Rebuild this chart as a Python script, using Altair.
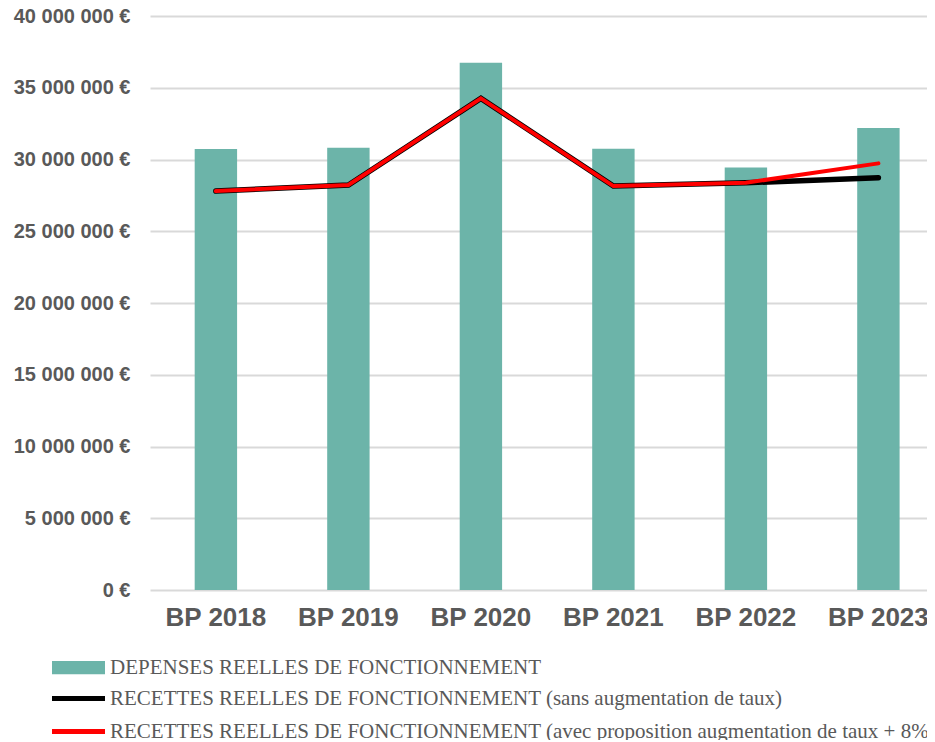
import altair as alt
import pandas as pd

years = ["BP 2018", "BP 2019", "BP 2020", "BP 2021", "BP 2022", "BP 2023"]
depenses = [30730000, 30820000, 36750000, 30750000, 29450000, 32200000]
recettes_sans = [27800000, 28220000, 34260000, 28150000, 28380000, 28730000]
recettes_avec = [27800000, 28220000, 34260000, 28150000, 28380000, 29730000]

lab_dep = "DEPENSES REELLES DE FONCTIONNEMENT"
lab_sans = "RECETTES REELLES DE FONCTIONNEMENT (sans augmentation de taux)"
lab_avec = "RECETTES REELLES DE FONCTIONNEMENT (avec proposition augmentation de taux + 8%)"
y_ticks = [0, 5000000, 10000000, 15000000, 20000000, 25000000, 30000000, 35000000, 40000000]

bars_df = pd.DataFrame({"annee": years, "valeur": depenses, "serie": lab_dep})
sans_df = pd.DataFrame({"annee": years, "valeur": recettes_sans, "serie": lab_sans})
avec_df = pd.DataFrame({"annee": years, "valeur": recettes_avec, "serie": lab_avec})

x_enc = alt.X(
    "annee:N",
    sort=years,
    scale=alt.Scale(paddingInner=0.68, paddingOuter=0.272, align=0.62),
    axis=alt.Axis(
        title=None, labelAngle=0, labelFont="Liberation Sans", labelFontWeight="bold",
        labelFontSize=26, labelColor="#595959", ticks=False, domain=False, labelPadding=14,
        grid=False,
    ),
)
y_enc = alt.Y(
    "valeur:Q",
    scale=alt.Scale(domain=[0, 40000000], nice=False),
    axis=alt.Axis(
        title=None, values=y_ticks,
        labelExpr="replace(format(datum.value, ',.0f'), /,/g, ' ') + ' €'",
        labelFont="Liberation Sans", labelFontWeight="bold", labelFontSize=20,
        labelColor="#595959", ticks=False, domain=False, labelPadding=20,
        grid=True, gridColor="#d9d9d9", gridWidth=2,
    ),
)

stroke_scale = alt.Scale(domain=[lab_sans, lab_avec], range=["#000000", "#ff0000"])
stroke_legend = alt.Legend(
    title=None, orient="none", legendX=-84, legendY=670,
    symbolType="M-2.65,0L2.65,0", symbolSize=400, symbolStrokeWidth=5,
    labelFont="Liberation Serif", labelFontSize=21,
    labelColor="#595959", labelLimit=0, padding=0, rowPadding=10, labelOffset=19,
)

bars = alt.Chart(bars_df).mark_bar().encode(
    x=x_enc,
    y=y_enc,
    color=alt.Color(
        "serie:N",
        scale=alt.Scale(domain=[lab_dep], range=["#6cb4a9"]),
        legend=alt.Legend(
            title=None, orient="none", legendX=-98, legendY=625,
            symbolType="M-1,-0.25L1,-0.25L1,0.25L-1,0.25Z", symbolSize=2809,
            symbolStrokeWidth=0, symbolOpacity=1, labelFont="Liberation Serif", labelFontSize=21,
            labelColor="#595959", labelLimit=0, padding=0, labelOffset=5,
        ),
    ),
)

line_sans = alt.Chart(sans_df).mark_line(strokeWidth=5.5, strokeCap="round", strokeJoin="miter").encode(
    x=x_enc, y=y_enc,
    stroke=alt.Stroke("serie:N", scale=stroke_scale, legend=stroke_legend),
)
line_avec = alt.Chart(avec_df).mark_line(strokeWidth=4, strokeCap="round", strokeJoin="miter").encode(
    x=x_enc, y=y_enc,
    stroke=alt.Stroke("serie:N", scale=stroke_scale, legend=stroke_legend),
)

chart = alt.layer(bars, line_sans, line_avec).properties(
    width=777,
    height=574,
    autosize=alt.AutoSizeParams(type="none"),
    padding={"left": 142, "top": 8, "right": 0, "bottom": 150},
).configure_view(stroke=None)

chart.save("out.html", embed_options={"renderer": "svg", "actions": False})
